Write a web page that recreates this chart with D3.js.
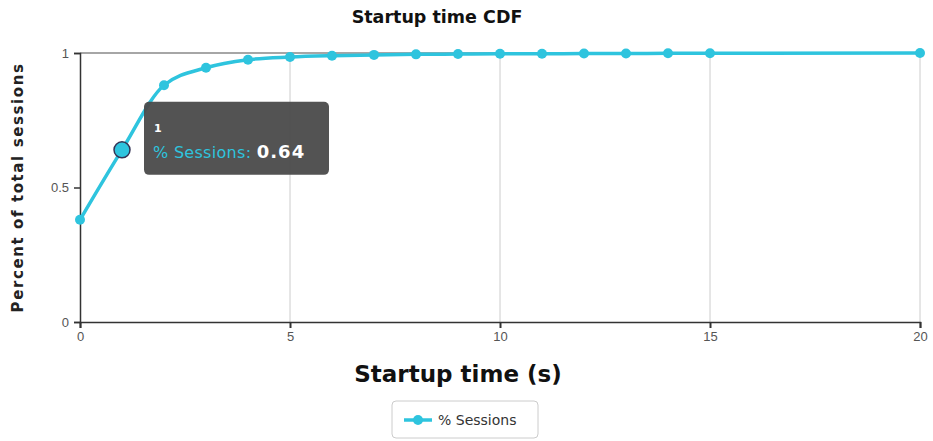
<!DOCTYPE html>
<html>
<head>
<meta charset="UTF-8">
<title>Startup time CDF</title>
<script src="https://d3js.org/d3.v7.min.js"></script>
<style>
  body { margin: 0; background: #fff; font-family: "DejaVu Sans", sans-serif; }
  .tick text { font-size: 13px; fill: #555; }
</style>
</head>
<body>
<svg width="933" height="441"></svg>
<script>
const startupTimes = [0, 1, 2, 3, 4, 5, 6, 7, 8, 9, 10, 11, 12, 13, 14, 15, 20];
const sessionShare = [0.38, 0.64, 0.88, 0.945, 0.975, 0.985, 0.99, 0.993, 0.995, 0.996, 0.997, 0.997, 0.998, 0.998, 0.999, 0.999, 1];
const xTicks = [0, 5, 10, 15, 20];
const yTicks = [0, 0.5, 1];
const highlightIndex = 1;
const seriesName = "% Sessions";

const data = startupTimes.map((t, i) => ({ t, v: sessionShare[i] }));
const color = "#2ec4de";

const svg = d3.select("svg");
const plotLeft = 80, plotRight = 920, plotTop = 53, plotBottom = 322;

const x = d3.scaleLinear().domain([0, 20]).range([plotLeft, plotRight]);
const y = d3.scaleLinear().domain([0, 1]).range([plotBottom, plotTop]);

// vertical grid
svg.append("g").selectAll("line")
  .data(xTicks.slice(1))
  .enter().append("line")
  .attr("x1", d => x(d)).attr("x2", d => x(d))
  .attr("y1", plotTop).attr("y2", plotBottom)
  .attr("stroke", "#ccc").attr("stroke-width", 1);

// top line at 1
svg.append("line")
  .attr("x1", plotLeft).attr("x2", plotRight)
  .attr("y1", y(1)).attr("y2", y(1))
  .attr("stroke", "#888").attr("stroke-width", 1.5);

const xAxis = svg.append("g")
  .attr("transform", `translate(0,${plotBottom})`)
  .call(d3.axisBottom(x).tickValues(xTicks).tickSize(6).tickPadding(4));
xAxis.select(".domain").attr("stroke", "#333").attr("stroke-width", 1.5);
xAxis.selectAll(".tick line").attr("stroke", "#333").attr("stroke-width", 2);

const yAxis = svg.append("g")
  .attr("transform", `translate(${plotLeft},0)`)
  .call(d3.axisLeft(y).tickValues(yTicks).tickFormat(d3.format("")).tickSize(6).tickPadding(5));
yAxis.select(".domain").attr("stroke", "#333").attr("stroke-width", 1.5);
yAxis.selectAll(".tick line").attr("stroke", "#333").attr("stroke-width", 1.5);

// line
const line = d3.line().x(d => x(d.t)).y(d => y(d.v)).curve(d3.curveMonotoneX);
svg.append("path")
  .datum(data)
  .attr("d", line)
  .attr("fill", "none")
  .attr("stroke", color)
  .attr("stroke-width", 3.5);

svg.append("g").selectAll("circle")
  .data(data)
  .enter().append("circle")
  .attr("cx", d => x(d.t))
  .attr("cy", d => y(d.v))
  .attr("r", (d, i) => i === highlightIndex ? 8 : 5)
  .attr("fill", color)
  .attr("stroke", (d, i) => i === highlightIndex ? "#335" : "none")
  .attr("stroke-width", 1.5);

// titles
svg.append("text")
  .attr("x", 437).attr("y", 23)
  .attr("text-anchor", "middle")
  .style("font-size", "17.5px").style("font-weight", "bold").attr("fill", "#111")
  .text("Startup time CDF");

svg.append("text")
  .attr("x", 458).attr("y", 382)
  .attr("text-anchor", "middle")
  .style("font-size", "23px").style("font-weight", "bold").attr("fill", "#111")
  .text("Startup time (s)");

svg.append("text")
  .attr("transform", `translate(23,${(plotTop + plotBottom) / 2}) rotate(-90)`)
  .attr("text-anchor", "middle")
  .style("font-size", "15px").style("font-weight", "bold").style("letter-spacing", "1.6px").attr("fill", "#222")
  .text("Percent of total sessions");

// legend
const lg = svg.append("g").attr("transform", "translate(392,401)");
lg.append("rect")
  .attr("width", 146).attr("height", 37).attr("rx", 4)
  .attr("fill", "#fff").attr("stroke", "#ccc");
lg.append("line")
  .attr("x1", 12).attr("x2", 40).attr("y1", 19).attr("y2", 19)
  .attr("stroke", color).attr("stroke-width", 3.5);
lg.append("circle").attr("cx", 26).attr("cy", 19).attr("r", 5).attr("fill", color);
lg.append("text")
  .attr("x", 46).attr("y", 24)
  .style("font-size", "14px").attr("fill", "#333")
  .text(seriesName);

// tooltip
const hp = data[highlightIndex];
const tt = svg.append("g").attr("transform", `translate(${x(hp.t) + 22},${y(hp.v) - 48})`);
tt.append("rect")
  .attr("width", 185).attr("height", 73).attr("rx", 5)
  .attr("fill", "#4a4a4a").attr("opacity", 0.95);
tt.append("text")
  .attr("x", 10).attr("y", 30)
  .style("font-size", "11px").style("font-weight", "bold").attr("fill", "#fff")
  .text(hp.t);
const t2 = tt.append("text").attr("x", 9).attr("y", 56).style("font-size", "16px");
t2.append("tspan").attr("fill", color).style("letter-spacing", "0.3px").text(seriesName + ": ");
t2.append("tspan").attr("fill", "#fff").style("font-weight", "bold").style("font-size", "18px").style("letter-spacing", "1px").text(hp.v.toFixed(2));
</script>
</body>
</html>
